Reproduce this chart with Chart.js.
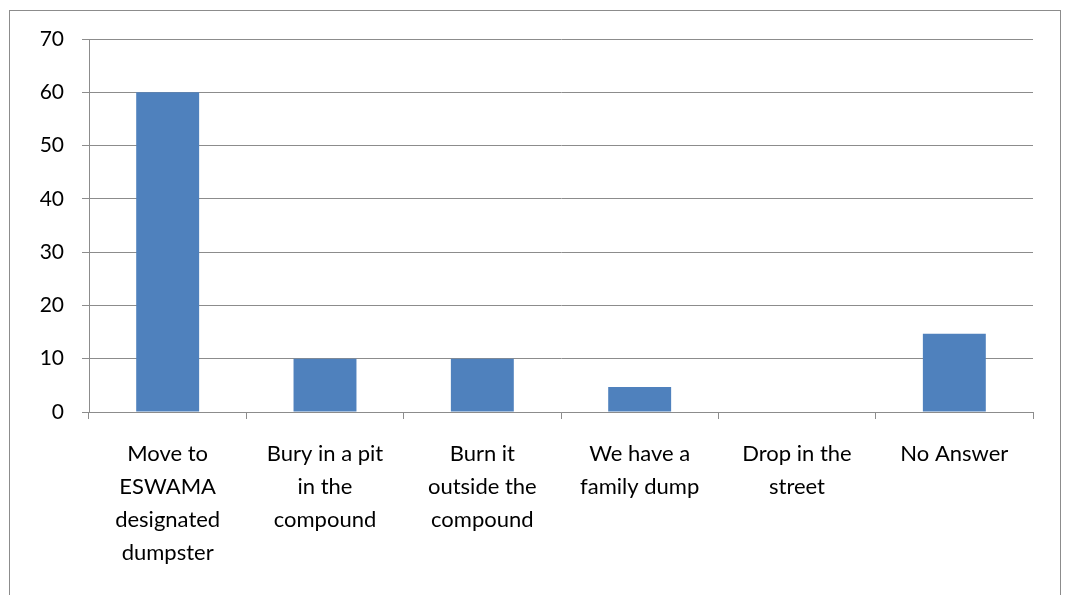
<!DOCTYPE html>
<html>
<head>
    <title>Waste disposal</title>
    <script src="https://cdn.jsdelivr.net/npm/chart.js"></script>
    <style>
        body { margin: 0; background: #fff; }
        #frame {
            position: absolute; left: 9px; top: 10px;
            width: 1050px; height: 600px;
            border: 1px solid #8c8c8c;
        }
        #wrap { position: absolute; left: 0; top: 0; width: 1068px; height: 595px; }
    </style>
</head>
<body>
    <div id="frame"></div>
    <div id="wrap"><canvas id="chart"></canvas></div>
    <script>
        const categories = [
            ['Move to', 'ESWAMA', 'designated', 'dumpster'],
            ['Bury in a pit', 'in the', 'compound'],
            ['Burn it', 'outside the', 'compound'],
            ['We have a', 'family dump'],
            ['Drop in the', 'street'],
            ['No Answer']
        ];
        const values = [60, 10, 10, 4.7, 0, 14.7];
        const yTicks = [0, 10, 20, 30, 40, 50, 60, 70];

        const gray = '#8c8c8c';
        const xFont = { family: 'Lato, "Open Sans", sans-serif', size: 22, lineHeight: 1.5 };
        const yFont = { family: 'Lato, "Open Sans", sans-serif', size: 21 };

        new Chart(document.getElementById('chart'), {
            type: 'bar',
            data: {
                labels: categories,
                datasets: [{
                    data: values,
                    backgroundColor: '#4f81bd',
                    barPercentage: 0.4,
                    categoryPercentage: 1.0
                }]
            },
            options: {
                responsive: true,
                maintainAspectRatio: false,
                animation: false,
                layout: { padding: { top: 39, right: 35, left: 0, bottom: 0 } },
                plugins: { legend: { display: false }, tooltip: { enabled: false } },
                scales: {
                    x: {
                        grid: { offset: true, drawOnChartArea: false, color: gray, tickLength: 7 },
                        border: { color: gray, width: 1 },
                        ticks: { color: '#000', font: xFont, padding: 18, maxRotation: 0, autoSkip: false },
                        afterFit: (s) => { s.height = 183; }
                    },
                    y: {
                        min: 0, max: 70,
                        afterBuildTicks: (s) => { s.ticks = yTicks.map(v => ({ value: v })); },
                        grid: { color: gray, tickLength: 7 },
                        border: { color: gray, width: 1 },
                        ticks: { color: '#000', font: yFont, padding: 18 },
                        afterFit: (s) => { s.width = 89; }
                    }
                }
            }
        });
    </script>
</body>
</html>
